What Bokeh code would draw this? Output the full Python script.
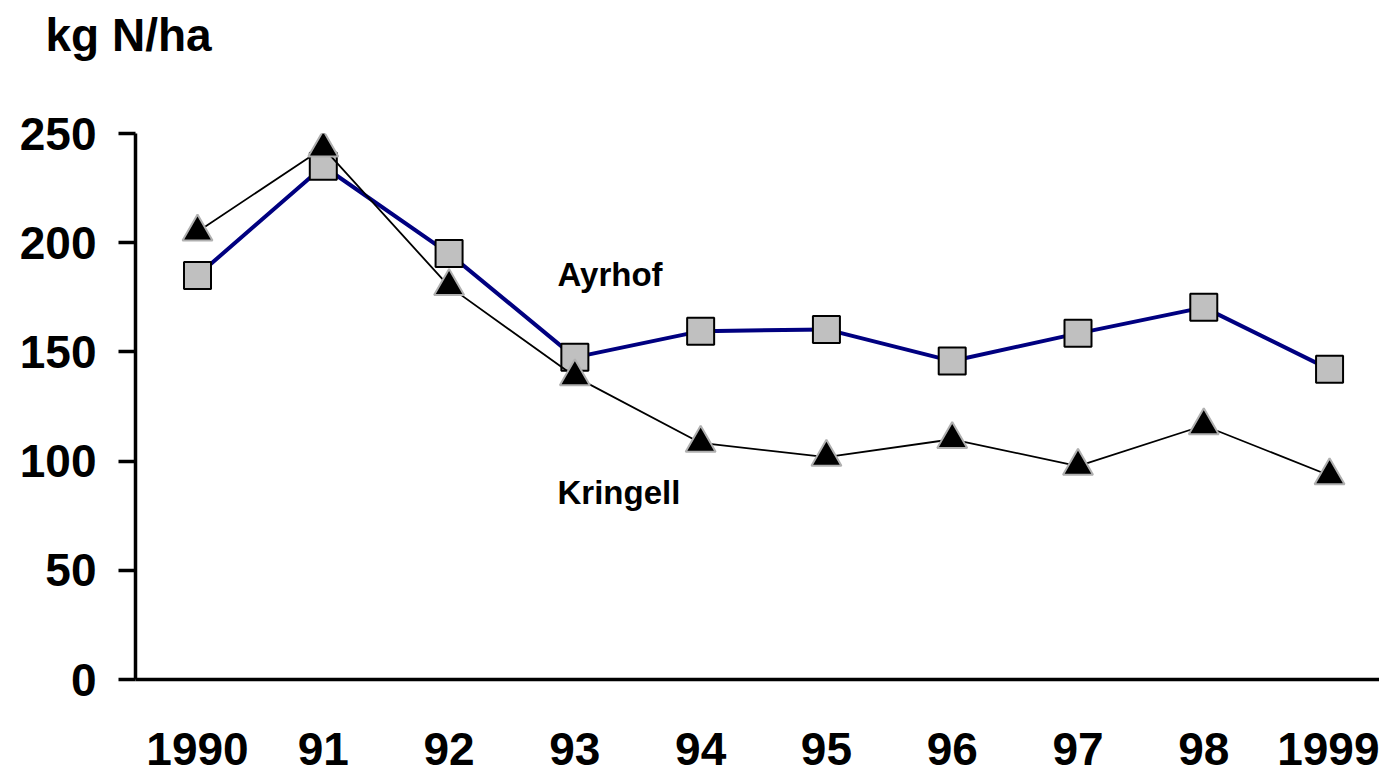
from bokeh.plotting import figure
from bokeh.models import Range1d, Label, FixedTicker
from bokeh.embed import file_html
from bokeh.resources import INLINE

years = [1990, 1991, 1992, 1993, 1994, 1995, 1996, 1997, 1998, 1999]
year_labels = ["1990", "91", "92", "93", "94", "95", "96", "97", "98", "1999"]
ayrhof = [185, 235, 195, 147.5, 159.5, 160.3, 145.8, 158.5, 170.4, 142]
kringell = [205, 243.4, 180, 138.7, 108.3, 101.8, 110, 97.7, 116.3, 93.4]
y_ticks = [0, 50, 100, 150, 200, 250]

FONT = "Liberation Sans"

p = figure(width=1379, height=777, output_backend="svg", toolbar_location=None,
           x_range=Range1d(1989.507, 1999.397), y_range=Range1d(0, 250),
           min_border_left=135, min_border_top=133, min_border_bottom=98, min_border_right=0)
p.outline_line_color = None
p.xgrid.visible = False
p.ygrid.visible = False
p.background_fill_color = "white"
p.border_fill_color = "white"

# title (axis unit); the empty second line lifts it towards the top edge
p.title.text = "kg N/ha\n\u00a0"
p.title.align = "left"
p.title.offset = -90
p.title.standoff = 0
p.title.text_line_height = 1.40
p.title.text_font = FONT
p.title.text_font_style = "bold"
p.title.text_font_size = "46px"
p.title.text_color = "black"

# axes
p.yaxis.ticker = FixedTicker(ticks=y_ticks)
p.yaxis.minor_tick_line_color = None
p.yaxis.major_tick_out = 17
p.yaxis.major_tick_in = 0
p.yaxis.major_tick_line_width = 3.5
p.yaxis.axis_line_width = 3.5
p.yaxis.axis_line_color = "black"
p.yaxis.major_tick_line_color = "black"
p.yaxis.major_label_standoff = 22
p.yaxis.major_label_text_font = FONT
p.yaxis.major_label_text_font_style = "bold"
p.yaxis.major_label_text_font_size = "46px"
p.yaxis.major_label_text_color = "black"

p.xaxis.ticker = FixedTicker(ticks=years)
p.xaxis.major_label_overrides = {y: l for y, l in zip(years, year_labels)}
p.xaxis.minor_tick_line_color = None
p.xaxis.major_tick_line_color = None
p.xaxis.major_tick_out = 0
p.xaxis.major_tick_in = 0
p.xaxis.axis_line_width = 3.5
p.xaxis.axis_line_color = "black"
p.xaxis.major_label_standoff = 53
p.xaxis.major_label_text_font = FONT
p.xaxis.major_label_text_font_style = "bold"
p.xaxis.major_label_text_font_size = "46px"
p.xaxis.major_label_text_color = "black"

# series
p.line(years, ayrhof, line_color="#000080", line_width=4)
p.scatter(years, ayrhof, marker="square", size=27, fill_color="#C0C0C0",
          line_color="black", line_width=2)
p.line(years, kringell, line_color="black", line_width=1.8)
p.scatter(years, kringell, marker="triangle", size=30, fill_color="black",
          line_color="#B0B0B0", line_width=2)

# series names
p.add_layout(Label(x=1992.862, y=185.6, text="Ayrhof", text_font=FONT,
                   text_font_style="bold", text_font_size="33px", text_color="black",
                   text_baseline="alphabetic"))
p.add_layout(Label(x=1992.862, y=85.5, text="Kringell", text_font=FONT,
                   text_font_style="bold", text_font_size="33px", text_color="black",
                   text_baseline="alphabetic"))

open("out.html", "w").write(file_html(p, INLINE))
